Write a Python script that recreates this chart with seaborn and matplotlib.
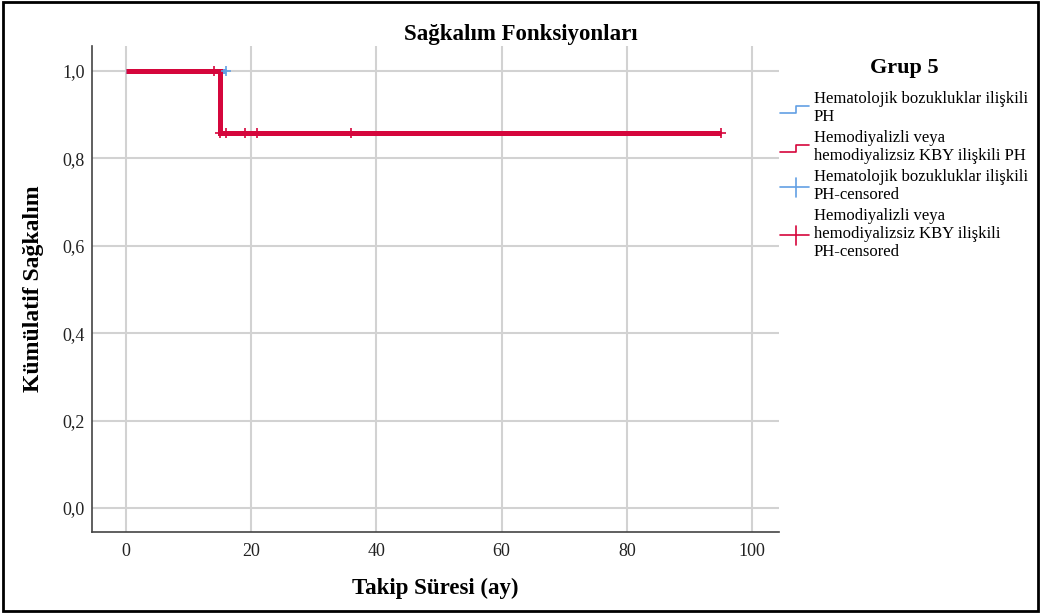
import numpy as np
import pandas as pd
import matplotlib
matplotlib.use("Agg")
import matplotlib.pyplot as plt
from matplotlib.lines import Line2D
from matplotlib.legend_handler import HandlerBase
from matplotlib.ticker import FuncFormatter
import seaborn as sns

# Kaplan-Meier step curves (time in months, cumulative survival)
group_names = ["Hematolojik bozukluklar ilişkili PH",
               "Hemodiyalizli veya hemodiyalizsiz KBY ilişkili PH"]
blue_time = [0, 16]
blue_surv = [1.0, 1.0]
red_time = [0, 15, 15, 95]
red_surv = [1.0, 1.0, 0.857, 0.857]

# Censored observations
blue_cens_time = [16]
blue_cens_surv = [1.0]
red_cens_time = [14, 15, 16, 19, 21, 36, 95]
red_cens_surv = [1.0, 0.857, 0.857, 0.857, 0.857, 0.857, 0.857]

x_ticks = [0, 20, 40, 60, 80, 100]
y_ticks = [0.0, 0.2, 0.4, 0.6, 0.8, 1.0]

BLUE = "#62a0e4"
RED = "#d5063c"

sns.set_theme(style="whitegrid")
plt.rcParams["font.family"] = ["Liberation Serif", "DejaVu Serif"]
plt.rcParams["text.color"] = "black"

curves = pd.concat([
    pd.DataFrame({"t": blue_time, "s": blue_surv, "g": group_names[0]}),
    pd.DataFrame({"t": red_time, "s": red_surv, "g": group_names[1]}),
])
cens = pd.concat([
    pd.DataFrame({"t": blue_cens_time, "s": blue_cens_surv, "g": group_names[0]}),
    pd.DataFrame({"t": red_cens_time, "s": red_cens_surv, "g": group_names[1]}),
])
palette = {group_names[0]: BLUE, group_names[1]: RED}

fig = plt.figure(figsize=(10.41, 6.13), dpi=100)
ax = fig.add_axes([0.0884, 0.1321, 0.660, 0.793])

sns.lineplot(data=curves, x="t", y="s", hue="g", palette=palette, ax=ax,
             linewidth=3.6, legend=False, sort=False, estimator=None,
             drawstyle="steps-post", solid_capstyle="butt", solid_joinstyle="miter")
sns.scatterplot(data=cens[cens.g == group_names[0]], x="t", y="s", ax=ax,
                marker="+", s=50, color=BLUE, linewidth=1.2, legend=False, zorder=4)
sns.scatterplot(data=cens[cens.g == group_names[1]], x="t", y="s", ax=ax,
                marker="+", s=50, color=RED, linewidth=1.2, legend=False, zorder=3)

ax.set_xlim(-5.4, 104.3)
ax.set_ylim(-0.055, 1.057)
ax.set_xticks(x_ticks)
ax.set_yticks(y_ticks)
ax.yaxis.set_major_formatter(FuncFormatter(lambda v, p: f"{v:.1f}".replace(".", ",")))
ax.tick_params(axis="both", length=0, labelsize=13, colors="#222222")
ax.tick_params(axis="x", pad=8)
ax.tick_params(axis="y", pad=5)
ax.grid(True, color="#d2d2d2", linewidth=1.5)
for side in ["top", "right"]:
    ax.spines[side].set_visible(False)
for side in ["left", "bottom"]:
    ax.spines[side].set_color("#444444")
    ax.spines[side].set_linewidth(1.2)

fig.text(0.5, 0.944, "Sağkalım Fonksiyonları", fontsize=16.5, fontweight="bold",
         ha="center", va="center", color="black")
ax.set_xlabel("Takip Süresi (ay)", fontsize=16.5, fontweight="bold", color="black")
ax.set_ylabel("Kümülatif Sağkalım", fontsize=17, fontweight="bold", color="black")
ax.xaxis.label.set_va("center")
ax.yaxis.label.set_va("center")
ax.xaxis.set_label_coords(0.5, -0.115)
ax.yaxis.set_label_coords(-0.0859, 0.5)


class StepHandler(HandlerBase):
    def create_artists(self, legend, orig_handle, xdescent, ydescent,
                       width, height, fontsize, trans):
        xs = [0, width * 0.55, width * 0.55, width]
        ys = [height * 0.1, height * 0.1, height * 0.7, height * 0.7]
        ln = Line2D(xs, ys, color=orig_handle.get_color(), linewidth=1.2,
                    transform=trans)
        return [ln]


class CrossHandler(HandlerBase):
    def create_artists(self, legend, orig_handle, xdescent, ydescent,
                       width, height, fontsize, trans):
        c = orig_handle.get_color()
        h = Line2D([0, width], [height * 0.4] * 2, color=c, linewidth=1.2,
                   transform=trans)
        v = Line2D([width * 0.55] * 2, [height * 0.4 - 7, height * 0.4 + 7],
                   color=c, linewidth=1.2, transform=trans)
        return [h, v]


class StepKey(Line2D):
    pass


class CrossKey(Line2D):
    pass


handles = [StepKey([], [], color=BLUE), StepKey([], [], color=RED),
           CrossKey([], [], color=BLUE), CrossKey([], [], color=RED)]
labels = ["Hematolojik bozukluklar ilişkili\nPH",
          "Hemodiyalizli veya\nhemodiyalizsiz KBY ilişkili PH",
          "Hematolojik bozukluklar ilişkili\nPH-censored",
          "Hemodiyalizli veya\nhemodiyalizsiz KBY ilişkili\nPH-censored"]

# Legend heading drawn separately so its gap to the entries can be set freely
fig.text(0.869, 1 - 68 / 613, "Grup 5", fontsize=16, fontweight="bold",
         ha="center", va="center", color="black")
leg = fig.legend(handles, labels, loc="upper left", bbox_to_anchor=(0.749, 1 - 91 / 613),
                 frameon=False, fontsize=12,
                 handler_map={StepKey: StepHandler(), CrossKey: CrossHandler()},
                 handlelength=1.75, handletextpad=0.3, labelspacing=0.3,
                 borderaxespad=0, borderpad=0)
for t in leg.get_texts():
    t.set_linespacing(1.17)
    t.set_color("black")

# Outer frame around the whole figure
fig.patches.append(plt.Rectangle((0.003, 0.004), 0.994, 0.992, transform=fig.transFigure,
                                 fill=False, edgecolor="black", linewidth=2))

fig.savefig("out.png", dpi=100)
